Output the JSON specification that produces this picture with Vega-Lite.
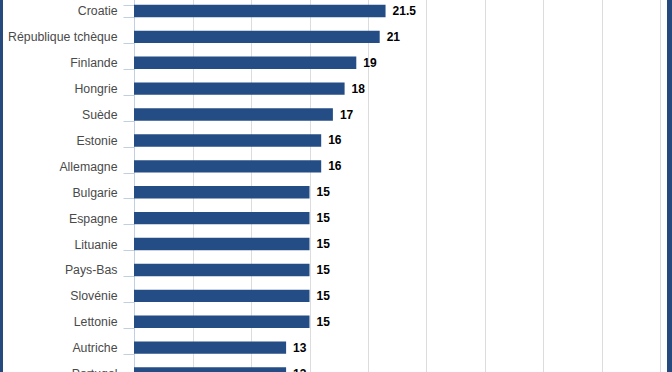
{
  "$schema": "https://vega.github.io/schema/vega-lite/v6.json",
  "autosize": {"type": "none"},
  "width": 664,
  "height": 388.5,
  "padding": {"left": 3, "right": 5, "top": -2, "bottom": 0},
  "background": "#264a7e",
  "config": {"view": {"stroke": null, "fill": "#ffffff"}, "font": "Liberation Sans"},
  "data": {"values": [
    {"pays": "Croatie", "valeur": 21.5, "txt": "21.5"},
    {"pays": "République tchèque", "valeur": 21, "txt": "21"},
    {"pays": "Finlande", "valeur": 19, "txt": "19"},
    {"pays": "Hongrie", "valeur": 18, "txt": "18"},
    {"pays": "Suède", "valeur": 17, "txt": "17"},
    {"pays": "Estonie", "valeur": 16, "txt": "16"},
    {"pays": "Allemagne", "valeur": 16, "txt": "16"},
    {"pays": "Bulgarie", "valeur": 15, "txt": "15"},
    {"pays": "Espagne", "valeur": 15, "txt": "15"},
    {"pays": "Lituanie", "valeur": 15, "txt": "15"},
    {"pays": "Pays-Bas", "valeur": 15, "txt": "15"},
    {"pays": "Slovénie", "valeur": 15, "txt": "15"},
    {"pays": "Lettonie", "valeur": 15, "txt": "15"},
    {"pays": "Autriche", "valeur": 13, "txt": "13"},
    {"pays": "Portugal", "valeur": 13, "txt": "13"}
  ]},
  "encoding": {
    "y": {
      "field": "pays", "type": "nominal", "sort": null,
      "scale": {"paddingInner": 0.52, "paddingOuter": 0.26},
      "axis": {
        "title": null, "orient": "left", "offset": -131,
        "tickBand": "extent", "tickSize": 11, "tickColor": "#c0d0e0",
        "domainColor": "#c0d0e0", "labelColor": "#4a4a4a",
        "labelFont": "Liberation Sans", "labelFontSize": 12.3, "labelPadding": 6,
        "grid": false
      }
    },
    "x": {
      "field": "valeur", "type": "quantitative",
      "scale": {"domain": [-11.197, 45.556], "nice": false, "zero": false},
      "axis": {
        "title": null, "values": [0, 5, 10, 15, 20, 25, 30, 35, 40, 45],
        "labels": false, "ticks": false, "domain": false,
        "grid": true, "gridColor": "#dcdcdc", "gridWidth": 1
      }
    }
  },
  "layer": [
    {
      "mark": {"type": "bar", "color": "#244d85"},
      "encoding": {"x2": {"datum": 0}}
    },
    {
      "mark": {"type": "text", "align": "left", "dx": 7, "fontWeight": "bold", "fontSize": 12, "color": "#000000", "font": "Liberation Sans"},
      "encoding": {"text": {"field": "txt"}}
    }
  ]
}
